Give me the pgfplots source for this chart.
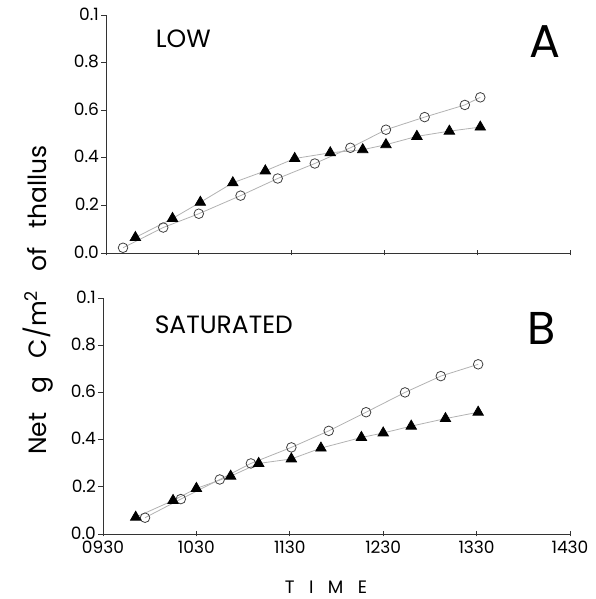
\documentclass[border=0pt]{standalone}
\usepackage{fontspec}
\setmainfont{Poppins}
\usepackage{pgfplots}
\pgfplotsset{compat=1.18}

\pgfplotsset{
  panel/.style={
    scale only axis,
    anchor=south west,
    xmin=0, xmax=300, ymin=0, ymax=1,
    axis x line=bottom, axis y line=left,
    axis line style={-, black!80, line width=0.8pt},
    xtick={0,60,120,180,240,300},
    ytick={0,0.2,0.4,0.6,0.8,1},
    yticklabels={0.0,0.2,0.4,0.6,0.8,0.1},
    y tick label style={font=\fontsize{17}{20}\selectfont, xshift=-1pt, yshift=1pt, inner sep=1pt},
    x tick label style={font=\fontsize{17}{20}\selectfont, yshift=-1pt, inner sep=1pt},
    major tick length=5pt,
    xtick style={black!80, line width=0.7pt, yshift=2.5pt},
    ytick style={black!80, line width=0.7pt},
    tick align=outside,
    clip=false,
  },
  circ/.style={gray!60, line width=0.8pt, mark=o, mark size=4.8pt,
    mark options={black!75, line width=0.8pt, fill=white}},
  tri/.style={gray!60, line width=0.8pt, mark=triangle*, mark size=6pt,
    mark options={black, fill=black}},
}

\begin{document}
\begin{tikzpicture}
\useasboundingbox (0pt,0pt) rectangle (596pt,599pt);

% panel A: low light
\begin{axis}[panel, at={(106pt,346pt)}, width=464pt, height=238pt, xticklabels={}]
  \addplot[circ] coordinates {
    (11,0.022) (37,0.107) (60,0.165) (87,0.241) (111,0.313) (135,0.376)
    (158,0.442) (181,0.518) (206,0.571) (232,0.622) (242,0.654)};
  \addplot[tri] coordinates {
    (19,0.065) (43,0.145) (61,0.213) (82,0.295) (103,0.345) (122,0.397)
    (145,0.421) (166,0.434) (181,0.455) (201,0.490) (222,0.512) (242,0.529)};
  \node[anchor=west, font=\fontsize{25}{30}\selectfont] at (axis cs:30,0.9) {LOW};
  \node[font=\fontsize{46}{52}\selectfont] at (axis cs:284,0.89) {A};
\end{axis}

% panel B: saturated
\begin{axis}[panel, at={(103pt,65pt)}, width=467pt, height=236pt,
    xticklabels={0930,1030,1130,1230,1330,1430}]
  \addplot[circ] coordinates {
    (27,0.069) (50,0.148) (75,0.231) (95,0.299) (121,0.367) (145,0.437)
    (169,0.516) (194,0.600) (217,0.669) (241,0.719)};
  \addplot[tri] coordinates {
    (21,0.071) (45,0.142) (60,0.193) (82,0.245) (100,0.299) (121,0.318)
    (140,0.364) (166,0.409) (180,0.428) (198,0.457) (220,0.489) (241,0.516)};
  \node[anchor=west, font=\fontsize{25}{30}\selectfont] at (axis cs:31,0.885) {SATURATED};
  \node[font=\fontsize{46}{52}\selectfont] at (axis cs:282,0.87) {B};
\end{axis}

\node[rotate=90, font=\fontsize{25}{30}\selectfont] at (38pt,299pt)
  {Net\hspace{0.75em}g\hspace{0.75em}C/m\textsuperscript{2}\hspace{0.75em}of\hspace{0.75em}thallus};
\node[inner sep=0pt, font=\fontsize{18}{21}\selectfont] at (326pt,12pt) {T\hspace{0.8em}I\hspace{0.8em}M\hspace{0.8em}E};
\end{tikzpicture}
\end{document}
